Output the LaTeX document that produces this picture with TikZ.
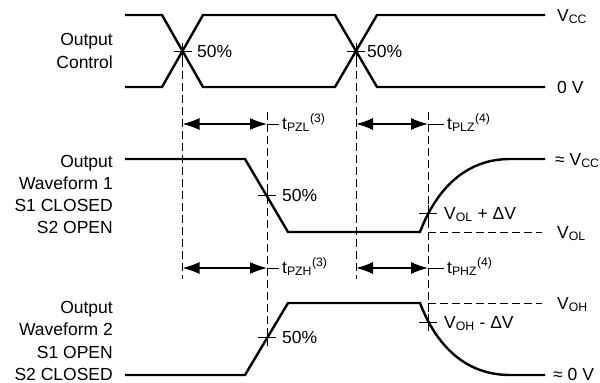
\documentclass[tikz,border=0pt]{standalone}
\usepackage{fontspec}
\setmainfont{Liberation Sans}
\usetikzlibrary{arrows.meta}

\begin{document}
\begin{tikzpicture}[x=1pt,y=-1pt,
  wave/.style={line width=2.4pt,line join=miter},
  guide/.style={line width=0.9pt,dash pattern=on 8pt off 4pt},
  tick/.style={line width=0.9pt},
  span/.style={line width=1.3pt,{Latex[length=17pt,width=12pt]}-{Latex[length=17pt,width=12pt]}},
  lbl/.style={font=\fontsize{17.5}{22.3}\selectfont,inner sep=0pt}]

\useasboundingbox (0,0) rectangle (600,383);

%-------------------------------------------------------------------
% Output control
\draw[wave] (125,15)--(162,15)--(203,87)--(335,87)--(377,15)--(545,15);
\draw[wave] (125,87)--(162,87)--(203,15)--(335,15)--(377,87)--(545,87);

% Output waveform 1
\draw[wave] (125,159)--(245,159)--(288,232)--(420,232)
  .. controls (436,190) and (465,159) .. (510,159)--(545,159);

% Output waveform 2
\draw[wave] (125,375)--(245,375)--(288,303)--(420,303)
  .. controls (436,345) and (465,375) .. (510,375)--(545,375);

%-------------------------------------------------------------------
% Reference points
\coordinate (cx1) at (182.5,51);
\coordinate (cx2) at (356,51);
\coordinate (hw1) at (267,195);
\coordinate (hw2) at (267,337);
\coordinate (dl) at (428,213);
\coordinate (dh) at (428,322);

% Dashed guides
\foreach \x/\ya/\yb in {182.5/59/279,356/59/279,267/112/346,428/112/331}{
    \draw[guide] (\x,\ya)--(\x,\yb);
}
\draw[guide] (428,232)--(542,232);
\draw[guide] (428,303)--(542,303);

% Crossing marks
\foreach \p in {cx1,cx2,hw1,hw2,dl,dh}{
    \draw[tick] ([xshift=-9pt]\p)--([xshift=9pt]\p);
    \draw[tick] ([yshift=-8pt]\p)--([yshift=8pt]\p);
}

%-------------------------------------------------------------------
% Timing arrows
\coordinate (zl0) at (182.5,124); \coordinate (zl1) at (267,124);
\coordinate (lz0) at (356,124);   \coordinate (lz1) at (428,124);
\coordinate (zh0) at (182.5,268); \coordinate (zh1) at (267,268);
\coordinate (hz0) at (356,268);   \coordinate (hz1) at (428,268);

\node[lbl,anchor=base west] (tpzl) at (282,129) {t\textsubscript{PZL}\textsuperscript{(3)}};
\node[lbl,anchor=base west] (tplz) at (447,129) {t\textsubscript{PLZ}\textsuperscript{(4)}};
\node[lbl,anchor=base west] (tpzh) at (282,273) {t\textsubscript{PZH}\textsuperscript{(3)}};
\node[lbl,anchor=base west] (tphz) at (447,273) {t\textsubscript{PHZ}\textsuperscript{(4)}};

\draw[span] (zl0)--(zl1);
\draw[span] (lz0)--(lz1);
\draw[span] (zh0)--(zh1);
\draw[span] (hz0)--(hz1);
\draw[tick,shorten >=3pt] (zl1)--(zl1 -| tpzl.west);
\draw[tick,shorten >=3pt] (lz1)--(lz1 -| tplz.west);
\draw[tick,shorten >=3pt] (zh1)--(zh1 -| tpzh.west);
\draw[tick,shorten >=3pt] (hz1)--(hz1 -| tphz.west);

%-------------------------------------------------------------------
% Labels
\node[lbl,anchor=east,align=right] (ctl) at (113,51) {Output\\Control};
\node[lbl,anchor=east,align=right] (wf1) at (113,194.5) {Output\\Waveform 1\\S1 CLOSED\\S2 OPEN};
\node[lbl,anchor=east,align=right] (wf2) at (113,341) {Output\\Waveform 2\\S1 OPEN\\S2 CLOSED};

\node[lbl,anchor=base west] (p1) at (197,57) {50\%};
\node[lbl,anchor=base west] (p2) at (367,57) {50\%};
\node[lbl,anchor=base west] (p3) at (282,201) {50\%};
\node[lbl,anchor=base west] (p4) at (282,343) {50\%};
\node[lbl,anchor=base west] (vold) at (444,219) {V\textsubscript{OL} + ΔV};
\node[lbl,anchor=base west] (vohd) at (444,328) {V\textsubscript{OH} - ΔV};

\node[lbl,anchor=base west] (vcc) at (557,21) {V\textsubscript{CC}};
\node[lbl,anchor=base west] (gnd) at (557,93) {0 V};
\node[lbl,anchor=base west] (avcc) at (555,165) {≈ V\textsubscript{CC}};
\node[lbl,anchor=base west] (vol) at (557,238) {V\textsubscript{OL}};
\node[lbl,anchor=base west] (voh) at (557,309) {V\textsubscript{OH}};
\node[lbl,anchor=base west] (agnd) at (553,380) {≈ 0 V};

\end{tikzpicture}
\end{document}
